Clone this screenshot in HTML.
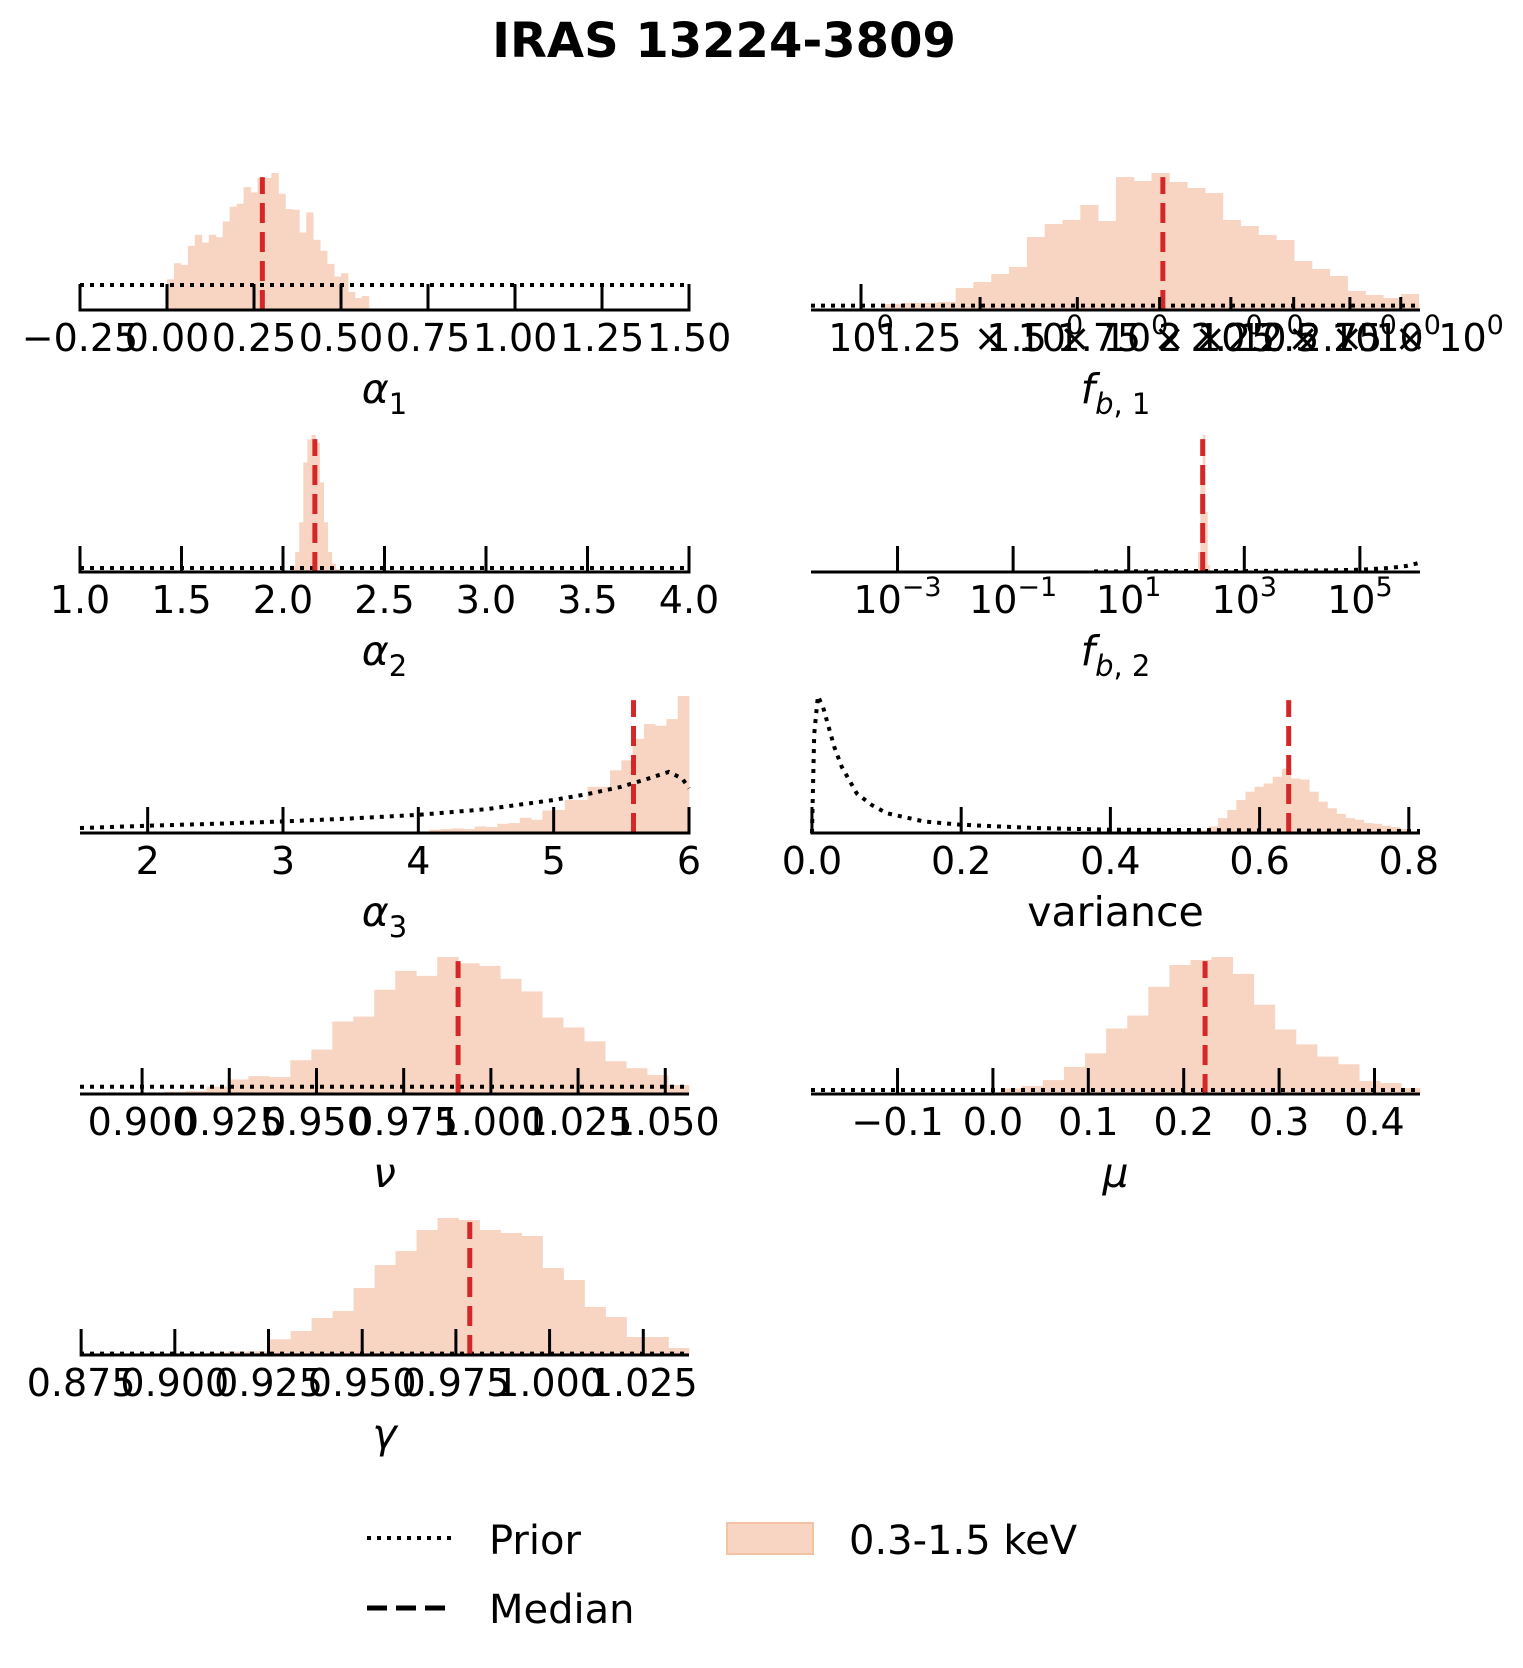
<!DOCTYPE html>
<html><head><meta charset="utf-8"><title>IRAS 13224-3809</title>
<style>html,body{margin:0;padding:0;background:#fff}svg{display:block}text{font-family:"DejaVu Sans","Liberation Sans",sans-serif;fill:#000}</style>
</head><body>
<svg id="fig" xmlns="http://www.w3.org/2000/svg" width="1523" height="1668" viewBox="0 0 1523 1668">
<rect width="1523" height="1668" fill="#fff"/>
<text x="724" y="57" text-anchor="middle" font-size="48" font-weight="bold">IRAS 13224-3809</text>
<g id="panels"></g>
<g>
<line x1="367" y1="1538" x2="453" y2="1538" stroke="#000" stroke-width="4" stroke-dasharray="4 6"/>
<text x="489" y="1554" font-size="40">Prior</text>
<line x1="367" y1="1608" x2="453" y2="1608" stroke="#000" stroke-width="5" stroke-dasharray="20 9"/>
<text x="489" y="1623" font-size="40">Median</text>
<rect x="727" y="1523" width="86" height="31" fill="#f8d5c2" stroke="#f4c3a6" stroke-width="2"/>
<text x="849" y="1554" font-size="40">0.3-1.5 keV</text>
</g>
</svg>
<script>
// ---- data ----
const a1Start = 0.0, a1Width = 0.02;
const a1Counts = [92,140,135,192,225,202,225,218,265,309,318,368,352,395,395,410,348,302,300,232,292,210,177,138,100,110,54,36,42];
const a1PriorX = [-0.25, 1.5]; const a1PriorY = [75, 75];
const a1Median = 0.274;
const a1Ticks = [-0.25,0,0.25,0.5,0.75,1.0,1.25,1.5];
const a1TickLabels = ["\u22120.25","0.00","0.25","0.50","0.75","1.00","1.25","1.50"];

const fb1Start = 0.019, fb1Width = 0.0145; // log10 units
const fb1Counts = [18,21,21,24,66,84,108,129,219,258,270,315,267,399,387,411,384,366,351,270,252,225,210,147,123,102,57,45,36,48];
const fb1PriorX = [-0.0407, 0.455]; const fb1PriorY = [13, 13];
const fb1Median = 0.2457;
const fb1Ticks = [0, 0.09691, 0.17609, 0.24304, 0.30103, 0.35218, 0.39794, 0.43933];
const fb1TickLabels = ["10|0","1.25 \u00d7 10|0","1.5 \u00d7 10|0","1.75 \u00d7 10|0","2 \u00d7 10|0","2.25 \u00d7 10|0","2.5 \u00d7 10|0","2.75 \u00d7 10|0"];

const a2Start = 2.04, a2Width = 0.02;
const a2Counts = [20,60,150,330,400,413,390,270,150,60,25,8];
const a2PriorX = [1.0, 4.0]; const a2PriorY = [12, 12];
const a2Median = 2.157;
const a2Ticks = [1.0,1.5,2.0,2.5,3.0,3.5,4.0];
const a2TickLabels = ["1.0","1.5","2.0","2.5","3.0","3.5","4.0"];

const fb2Start = 2.16, fb2Width = 0.04;
const fb2Counts = [5,60,300,413,180,20];
const fb2PriorX = [0.4,1,2,3,4,4.5,5,5.5,5.8,6.04]; const fb2PriorY = [2,2,3,3,4,5,7,12,18,28];
const fb2Median = 2.28;
const fb2Ticks = [-3,-1,1,3,5];
const fb2TickLabels = ["10|\u22123","10|\u22121","10|1","10|3","10|5"];

const a3Start = 4.0833, a3Width = 0.08333;
const a3Counts = [10,12,14,12,20,18,28,30,46,40,68,70,100,100,140,140,190,220,285,330,325,345,415];
const a3PriorX = [1.5,2,2.5,3,3.5,4,4.5,5,5.25,5.5,5.7,5.85,5.95,6.0]; const a3PriorY = [15,22,28,35,44,55,72,100,118,140,165,185,165,135];
const a3Median = 5.59;
const a3Ticks = [2,3,4,5,6];
const a3TickLabels = ["2","3","4","5","6"];

const varStart = 0.52, varWidth = 0.0122;
const varCounts = [8,20,45,70,100,125,140,150,170,195,165,162,125,95,75,58,45,40,30,28,22,18,12,5];
const varPriorX = [0,0.003,0.008,0.015,0.02,0.03,0.04,0.06,0.08,0.1,0.15,0.2,0.3,0.4,0.6,0.8,0.815]; const varPriorY = [0,300,415,380,340,260,200,120,85,60,35,25,15,10,8,6,6];
const varMedian = 0.639;
const varTicks = [0,0.2,0.4,0.6,0.8];
const varTickLabels = ["0.0","0.2","0.4","0.6","0.8"];

const nuStart = 0.9064, nuWidth = 0.006016;
const nuCounts = [7,9,22,44,54,51,102,134,219,234,315,372,357,414,395,387,348,310,231,201,159,99,78,57,27];
const nuPriorX = [0.8822, 1.0568]; const nuPriorY = [22, 22];
const nuMedian = 0.9906;
const nuTicks = [0.9,0.925,0.95,0.975,1.0,1.025,1.05];
const nuTickLabels = ["0.900","0.925","0.950","0.975","1.000","1.025","1.050"];

const muStart = -0.0139, muWidth = 0.0221;
const muCounts = [4,17,24,42,82,123,198,237,324,390,405,414,363,270,195,150,113,90,39,33,18];
const muPriorX = [-0.1907, 0.4477]; const muPriorY = [12, 12];
const muMedian = 0.2224;
const muTicks = [-0.1,0,0.1,0.2,0.3,0.4];
const muTickLabels = ["\u22120.1","0.0","0.1","0.2","0.3","0.4"];

const gStart = 0.9085, gWidth = 0.0056;
const gCounts = [7,10,11,47,72,111,132,201,270,312,375,411,405,375,366,357,261,225,144,114,54,54,21];
const gPriorX = [0.8747, 1.0372]; const gPriorY = [4, 4];
const gMedian = 0.9787;
const gTicks = [0.875,0.9,0.925,0.95,0.975,1.0,1.025];
const gTickLabels = ["0.875","0.900","0.925","0.950","0.975","1.000","1.025"];

// ---- layout ----
const NS = "http://www.w3.org/2000/svg";
const root = document.getElementById('panels');
const PLOT_H = 137;
function el(tag, attrs, parent){const e=document.createElementNS(NS,tag);for(const k in attrs)e.setAttribute(k,attrs[k]);parent.appendChild(e);return e;}

const panels = [
 {id:'alpha1', x0:80, x1:689, base:310, dom:[-0.25,1.5], start:a1Start, w:a1Width, counts:a1Counts, px:a1PriorX, py:a1PriorY, med:a1Median, ticks:a1Ticks, labels:a1TickLabels, label:['α','1']},
 {id:'fb1', x0:811, x1:1420, base:310, dom:[-0.0407,0.455], start:fb1Start, w:fb1Width, counts:fb1Counts, px:fb1PriorX, py:fb1PriorY, med:fb1Median, ticks:fb1Ticks, labels:fb1TickLabels, label:['f','b, 1'], logMinor:true},
 {id:'alpha2', x0:80, x1:689, base:572, dom:[1.0,4.0], start:a2Start, w:a2Width, counts:a2Counts, px:a2PriorX, py:a2PriorY, med:a2Median, ticks:a2Ticks, labels:a2TickLabels, label:['α','2']},
 {id:'fb2', x0:811, x1:1420, base:572, dom:[-4.497,6.04], start:fb2Start, w:fb2Width, counts:fb2Counts, px:fb2PriorX, py:fb2PriorY, med:fb2Median, ticks:fb2Ticks, labels:fb2TickLabels, label:['f','b, 2']},
 {id:'alpha3', x0:80, x1:689, base:833, dom:[1.5,6.0], start:a3Start, w:a3Width, counts:a3Counts, px:a3PriorX, py:a3PriorY, med:a3Median, ticks:a3Ticks, labels:a3TickLabels, label:['α','3']},
 {id:'variance', x0:811, x1:1420, base:833, dom:[-0.0013,0.815], start:varStart, w:varWidth, counts:varCounts, px:varPriorX, py:varPriorY, med:varMedian, ticks:varTicks, labels:varTickLabels, label:['variance',null]},
 {id:'nu', x0:80, x1:689, base:1094, dom:[0.8822,1.0568], start:nuStart, w:nuWidth, counts:nuCounts, px:nuPriorX, py:nuPriorY, med:nuMedian, ticks:nuTicks, labels:nuTickLabels, label:['ν',null]},
 {id:'mu', x0:811, x1:1420, base:1094, dom:[-0.1907,0.4477], start:muStart, w:muWidth, counts:muCounts, px:muPriorX, py:muPriorY, med:muMedian, ticks:muTicks, labels:muTickLabels, label:['μ',null]},
 {id:'gamma', x0:80, x1:689, base:1355, dom:[0.8747,1.0372], start:gStart, w:gWidth, counts:gCounts, px:gPriorX, py:gPriorY, med:gMedian, ticks:gTicks, labels:gTickLabels, label:['γ',null]}
];

panels.forEach(p=>{
  const g = el('g',{},root);
  
  
  const xs = v => p.x0 + (v - p.dom[0])/(p.dom[1]-p.dom[0])*(p.x1-p.x0);
  const maxV = Math.max(Math.max(...p.counts), Math.max(...p.py));
  const ys = v => p.base - v/maxV*PLOT_H;
  const hg = el('g',{},g);
  
  
  p.counts.forEach((c,i)=>{
    const a = xs(p.start + i*p.w), b = Math.min(xs(p.start + (i+1)*p.w), p.x1);
    const r = el('rect',{x:a, y:ys(c), width:Math.max(b-a+0.4,0.5), height:p.base-ys(c), fill:'#f8d5c2'},hg);
    
    
  });
  const pts = p.px.map((v,i)=>xs(v)+','+ys(p.py[i])).join(' ');
  const pl = el('polyline',{points:pts, fill:'none', stroke:'#000', 'stroke-width':4, 'stroke-dasharray':'4 6'},g);
  
  
  const mx = xs(p.med);
  const ml = el('line',{x1:mx, x2:mx, y1:p.base, y2:p.base-PLOT_H*0.97, stroke:'#d62728', 'stroke-width':5, 'stroke-dasharray':'20 9'},g);
  
  
  const ax = el('line',{x1:p.x0, x2:p.x1, y1:p.base, y2:p.base, stroke:'#000', 'stroke-width':3},g);
  
  
  p.ticks.forEach((t,i)=>{
    const tx = xs(t);
    const len = (p.logMinor && i>0) ? 13 : 26;
    const tk = el('line',{x1:tx, x2:tx, y1:p.base+1.5, y2:p.base-len, stroke:'#000', 'stroke-width':3},g);
    
    
    const lab = p.labels[i];
    const tt = el('text',{x:tx, y:p.base+41, 'text-anchor':'middle', 'font-size':38},g);
    
    
    if(lab.indexOf('|')>=0){
      const parts = lab.split('|');
      const s1 = el('tspan',{},tt); s1.textContent = parts[0];
      const s2 = el('tspan',{dy:-17,'font-size':27},tt); s2.textContent = parts[1];
    } else tt.textContent = lab;
  });
  const cx = (p.x0+p.x1)/2;
  const lt = el('text',{x:cx, y:p.base+93, 'text-anchor':'middle', 'font-size':41},g);
  
  
  const t1 = el('tspan',{},lt);
  t1.textContent = p.label[0];
  if(p.label[0] !== 'variance') t1.setAttribute('font-style','italic');
  if(p.label[1]){
    const t2 = el('tspan',{dy:11,'font-size':29},lt);
    if(p.id.startsWith('fb')){
      const b = el('tspan',{'font-style':'italic'},t2); b.textContent='b';
      const rest = el('tspan',{},t2); rest.textContent=p.label[1].slice(1);
    } else t2.textContent = p.label[1];
  }
});
</script>
</body></html>
